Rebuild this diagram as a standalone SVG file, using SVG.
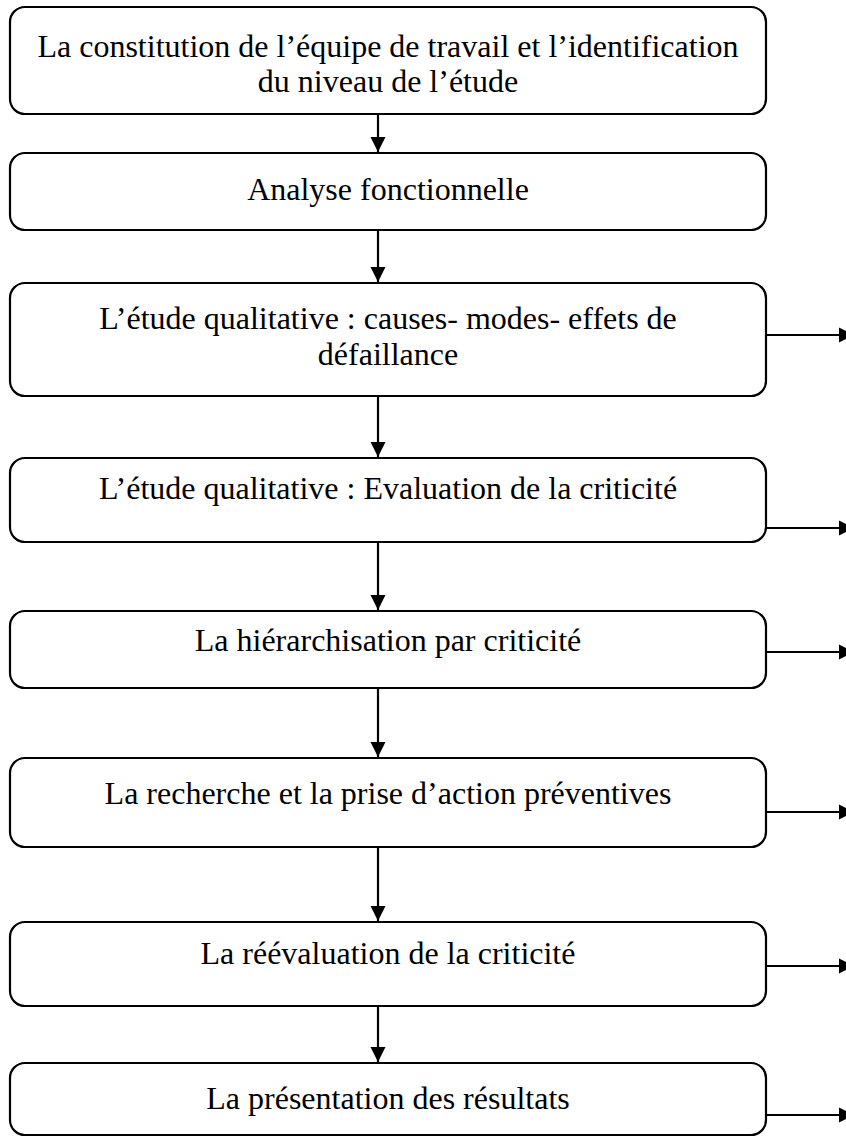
<svg xmlns="http://www.w3.org/2000/svg" width="846" height="1137" viewBox="0 0 846 1137">
<style>
.box{fill:#fff;stroke:#000;stroke-width:2.2}
.t{font-family:"Liberation Serif","Times New Roman",serif;font-size:32px;fill:#000;text-anchor:middle}
.c{stroke:#000;stroke-width:2.2;fill:none}
</style>
<defs>
<marker id="ah" viewBox="0 0 10 10" refX="10" refY="5" markerWidth="7" markerHeight="7" markerUnits="strokeWidth" orient="auto">
<path d="M0,0 L10,5 L0,10 z" fill="#000"/>
</marker>
</defs>
<rect width="846" height="1137" fill="#fff"/>
<g id="n1"><rect class="box" x="10" y="7" width="756" height="107" rx="15"/>
<text class="t" x="388" y="57">La constitution de l’équipe de travail et l’identification</text>
<text class="t" x="388" y="92">du niveau de l’étude</text></g>
<g id="n2"><rect class="box" x="10" y="153" width="756" height="77" rx="15"/>
<text class="t" x="388" y="200">Analyse fonctionnelle</text></g>
<g id="n3"><rect class="box" x="10" y="283" width="756" height="113" rx="15"/>
<text class="t" x="388" y="329">L’étude qualitative : causes- modes- effets de</text>
<text class="t" x="388" y="365">défaillance</text></g>
<g id="n4"><rect class="box" x="10" y="458" width="756" height="84" rx="15"/>
<text class="t" x="388" y="499">L’étude qualitative : Evaluation de la criticité</text></g>
<g id="n5"><rect class="box" x="10" y="611" width="756" height="77" rx="15"/>
<text class="t" x="388" y="651">La hiérarchisation par criticité</text></g>
<g id="n6"><rect class="box" x="10" y="758" width="756" height="89" rx="15"/>
<text class="t" x="388" y="804">La recherche et la prise d’action préventives</text></g>
<g id="n7"><rect class="box" x="10" y="922" width="756" height="84" rx="15"/>
<text class="t" x="388" y="964">La réévaluation de la criticité</text></g>
<g id="n8"><rect class="box" x="10" y="1063" width="756" height="72" rx="15"/>
<text class="t" x="388" y="1109">La présentation des résultats</text></g>
<g id="connectors">
<line class="c" x1="378" y1="114" x2="378" y2="152" marker-end="url(#ah)"/>
<line class="c" x1="378" y1="230" x2="378" y2="282" marker-end="url(#ah)"/>
<line class="c" x1="378" y1="396" x2="378" y2="457" marker-end="url(#ah)"/>
<line class="c" x1="378" y1="542" x2="378" y2="610" marker-end="url(#ah)"/>
<line class="c" x1="378" y1="688" x2="378" y2="757" marker-end="url(#ah)"/>
<line class="c" x1="378" y1="847" x2="378" y2="921" marker-end="url(#ah)"/>
<line class="c" x1="378" y1="1006" x2="378" y2="1062" marker-end="url(#ah)"/>
<line class="c" x1="766" y1="335" x2="854" y2="335" marker-end="url(#ah)"/>
<line class="c" x1="766" y1="528" x2="854" y2="528" marker-end="url(#ah)"/>
<line class="c" x1="766" y1="652" x2="854" y2="652" marker-end="url(#ah)"/>
<line class="c" x1="766" y1="812" x2="854" y2="812" marker-end="url(#ah)"/>
<line class="c" x1="766" y1="966" x2="854" y2="966" marker-end="url(#ah)"/>
<line class="c" x1="766" y1="1115" x2="854" y2="1115" marker-end="url(#ah)"/>
</g>
</svg>
